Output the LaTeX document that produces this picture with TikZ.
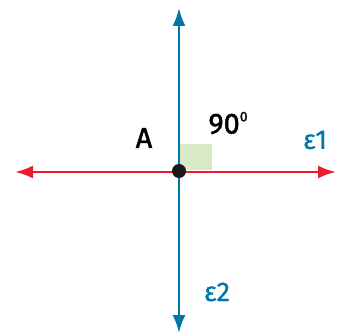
\documentclass[tikz,border=0pt]{standalone}
\usepackage{fontspec}
\setmainfont{Fira Sans}
\newfontfamily\medfont[FakeBold=1.6]{Fira Sans}
\newfontfamily\semifont[FakeBold=0.8]{Fira Sans}
\usepackage{tikz}
\usetikzlibrary{positioning, arrows.meta}
\definecolor{axisblue}{HTML}{0077A8}
\definecolor{axisred}{HTML}{EC1C2A}
\definecolor{anglegreen}{HTML}{D9E9C5}
\tikzset{
  redline/.style={draw=axisred, line width=2.6pt, {Latex[length=18pt,width=13pt]}-{Latex[length=18pt,width=13pt]}},
  blueline/.style={draw=axisblue, line width=2.6pt, {Latex[length=18pt,width=13pt]}-{Latex[length=18pt,width=13pt]}},
  pt/.style={circle, fill=black!90, inner sep=0pt, minimum size=14pt},
  lbl/.style={inner sep=0pt, font=\fontsize{29pt}{29pt}\medfont},
  linelbl/.style={inner sep=0pt, text=axisblue, font=\fontsize{27pt}{27pt}\semifont}
}
\begin{document}
\begin{tikzpicture}[x=1pt, y=1pt]
  \useasboundingbox (0,0) rectangle (339,335);
  % right angle mark
  \fill[anglegreen] (180,165) rectangle (212,191);
  % end points of the two lines
  \coordinate (left) at (15,163);
  \coordinate (right) at (336,163);
  \coordinate (top) at (179,327);
  \coordinate (bottom) at (179,2);
  \draw[redline] (left) -- (right);
  \draw[blueline] (bottom) -- (top);
  \node[pt] (dotA) at (179,164) {};
  % labels
  \node[lbl] (lblA) at (144,197) {A};
  \node[lbl] (angle) at (228,212) {90\raisebox{0.42em}{\fontsize{14pt}{14pt}\selectfont 0}};
  \node[linelbl] (e1) at (315,195) {ε1};
  \node[linelbl] (e2) at (217,43) {ε2};
\end{tikzpicture}
\end{document}
